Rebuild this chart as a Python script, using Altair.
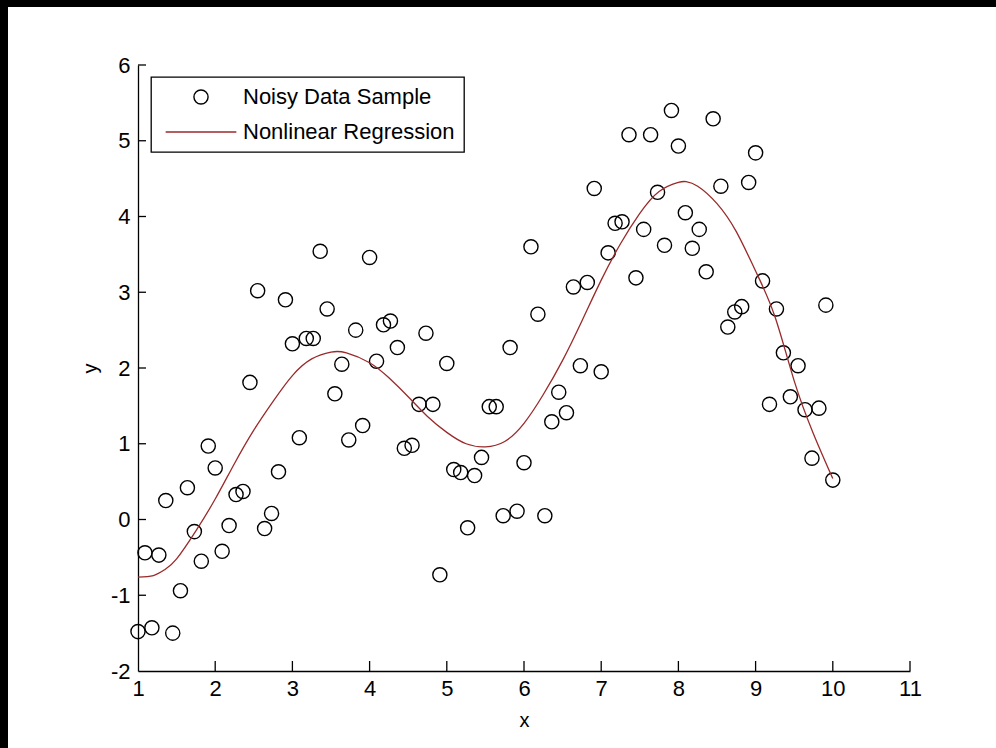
import altair as alt
import pandas as pd

# ---------------- data ----------------
x_data = [1.00, 1.09, 1.18, 1.27, 1.36, 1.45, 1.55, 1.64, 1.73, 1.82,
          1.91, 2.00, 2.09, 2.18, 2.27, 2.36, 2.45, 2.55, 2.64, 2.73,
          2.82, 2.91, 3.00, 3.09, 3.18, 3.27, 3.36, 3.45, 3.55, 3.64,
          3.73, 3.82, 3.91, 4.00, 4.09, 4.18, 4.27, 4.36, 4.45, 4.55,
          4.64, 4.73, 4.82, 4.91, 5.00, 5.09, 5.18, 5.27, 5.36, 5.45,
          5.55, 5.64, 5.73, 5.82, 5.91, 6.00, 6.09, 6.18, 6.27, 6.36,
          6.45, 6.55, 6.64, 6.73, 6.82, 6.91, 7.00, 7.09, 7.18, 7.27,
          7.36, 7.45, 7.55, 7.64, 7.73, 7.82, 7.91, 8.00, 8.09, 8.18,
          8.27, 8.36, 8.45, 8.55, 8.64, 8.73, 8.82, 8.91, 9.00, 9.09,
          9.18, 9.27, 9.36, 9.45, 9.55, 9.64, 9.73, 9.82, 9.91, 10.00]
y_data = [-1.48, -0.44, -1.43, -0.47, 0.25, -1.50, -0.94, 0.42, -0.16, -0.55,
          0.97, 0.68, -0.42, -0.08, 0.33, 0.37, 1.81, 3.02, -0.12, 0.08,
          0.63, 2.90, 2.32, 1.08, 2.39, 2.39, 3.54, 2.78, 1.66, 2.05,
          1.05, 2.50, 1.24, 3.46, 2.09, 2.57, 2.62, 2.27, 0.94, 0.98,
          1.52, 2.46, 1.52, -0.73, 2.06, 0.66, 0.62, -0.11, 0.58, 0.82,
          1.49, 1.49, 0.05, 2.27, 0.11, 0.75, 3.60, 2.71, 0.05, 1.29,
          1.68, 1.41, 3.07, 2.03, 3.13, 4.37, 1.95, 3.52, 3.91, 3.93,
          5.08, 3.19, 3.83, 5.08, 4.32, 3.62, 5.40, 4.93, 4.05, 3.58,
          3.83, 3.27, 5.29, 4.40, 2.54, 2.74, 2.81, 4.45, 4.84, 3.15,
          1.52, 2.78, 2.20, 1.62, 2.03, 1.45, 0.81, 1.47, 2.83, 0.52]

fit_x = [1.0, 1.2, 1.35, 1.5, 1.75, 2.0, 2.25, 2.5, 2.75, 3.0,
         3.25, 3.5, 3.7, 4.0, 4.25, 4.5, 4.75, 5.0, 5.25, 5.5,
         5.75, 6.0, 6.25, 6.5, 6.75, 7.0, 7.25, 7.5, 7.75,
         8.0, 8.1, 8.25, 8.5, 8.75, 9.0, 9.25, 9.5, 9.75, 10.0]
fit_y = [-0.76, -0.74, -0.66, -0.52, -0.15, 0.27, 0.74, 1.18, 1.56, 1.90,
         2.12, 2.21, 2.20, 2.07, 1.87, 1.62, 1.36, 1.15, 1.00, 0.96,
         1.03, 1.27, 1.65, 2.10, 2.62, 3.16, 3.64, 4.04, 4.33,
         4.45, 4.46, 4.40, 4.17, 3.80, 3.28, 2.68, 1.83, 1.13, 0.54]

series = ["Noisy Data Sample", "Nonlinear Regression"]
x_ticks = [1, 2, 3, 4, 5, 6, 7, 8, 9, 10, 11]
y_ticks = [-2, -1, 0, 1, 2, 3, 4, 5, 6]

pts = pd.DataFrame({"x": x_data, "y": y_data, "series": series[0]})
fit = pd.DataFrame({"x": fit_x, "y": fit_y, "series": series[1]})
xt = pd.DataFrame({"x": x_ticks[1:]})
yt = pd.DataFrame({"y": y_ticks[1:]})
one = pd.DataFrame({"k": [0]})

# ---------------- layout ----------------
W, H = 772, 606
PAD_L, PAD_T = 138, 65
FONT = "Liberation Sans"
RED = "#9a2a2a"
HYPHEN = "datum.value < 0 ? '-' + format(-datum.value, 'd') : datum.label"

xscale = alt.Scale(domain=[1, 11], nice=False, zero=False)
yscale = alt.Scale(domain=[-2, 6], nice=False, zero=False)

color = alt.Color("series:N", title=None,
                  scale=alt.Scale(domain=series, range=["black", RED]))
shape = alt.Shape("series:N", title=None,
                  scale=alt.Scale(domain=series, range=["circle", "M-5,0H5"]))

x_axis = alt.Axis(values=x_ticks, tickSize=0, labelPadding=7, grid=False,
                  labelFontSize=22, labelFont=FONT, labelColor="black",
                  labelFlush=False, labelOverlap=False,
                  domainColor="black", domainWidth=1.3,
                  title="x", titleFont=FONT, titleFontSize=20,
                  titleFontWeight="normal", titleColor="black",
                  titleX=W / 2, titleY=49, titleBaseline="middle")
y_axis = alt.Axis(values=y_ticks, tickSize=0, labelPadding=8, grid=False,
                  labelFontSize=22, labelFont=FONT, labelColor="black",
                  labelFlush=False, labelOverlap=False, labelExpr=HYPHEN,
                  domainColor="black", domainWidth=1.3,
                  title="y", titleFont=FONT, titleFontSize=20,
                  titleFontWeight="normal", titleColor="black",
                  titleX=-48, titleY=H / 2, titleBaseline="middle",
                  titleAngle=270)

X = alt.X("x:Q", scale=xscale, axis=x_axis)
Y = alt.Y("y:Q", scale=yscale, axis=y_axis)

points = alt.Chart(pts).mark_point(filled=False, size=200, strokeWidth=1.4,
                                   opacity=1).encode(
    x=X, y=Y, color=color, shape=shape,
)

line = alt.Chart(fit).mark_line(strokeWidth=1.3, interpolate="natural").encode(
    x=X, y=Y, color=color,
)

xticks_in = alt.Chart(xt).mark_rule(color="black", strokeWidth=1.3).encode(
    x=X, y=alt.value(H), y2=alt.value(H - 10),
)
yticks_in = alt.Chart(yt).mark_rule(color="black", strokeWidth=1.3).encode(
    y=Y, x=alt.value(0), x2=alt.value(8),
)

frame_left = alt.Chart(one).mark_rect(color="black").encode(
    x=alt.value(-PAD_L), x2=alt.value(-PAD_L + 8),
    y=alt.value(-PAD_T), y2=alt.value(748 - PAD_T),
)
frame_top = alt.Chart(one).mark_rect(color="black").encode(
    x=alt.value(-PAD_L), x2=alt.value(996 - PAD_L),
    y=alt.value(-PAD_T), y2=alt.value(-PAD_T + 7),
)

chart = alt.layer(points, line, xticks_in, yticks_in, frame_left, frame_top).properties(
    width=W, height=H,
    autosize=alt.AutoSizeParams(type="none"),
    padding={"left": PAD_L, "top": PAD_T, "right": 996 - PAD_L - W, "bottom": 748 - PAD_T - H},
    background="white",
).configure_view(
    stroke=None
).configure_legend(
    orient="none", legendX=13, legendY=12,
    strokeColor="black", strokeWidth=1.3, fillColor="white",
    padding=9, labelFont=FONT, labelFontSize=22, labelColor="black",
    labelLimit=400,
    symbolSize=200, symbolStrokeWidth=1.4, symbolOffset=30, labelOffset=31,
    rowPadding=13, symbolFillColor="transparent",
)

chart.save("out.html", embed_options={"renderer": "svg", "actions": False})
